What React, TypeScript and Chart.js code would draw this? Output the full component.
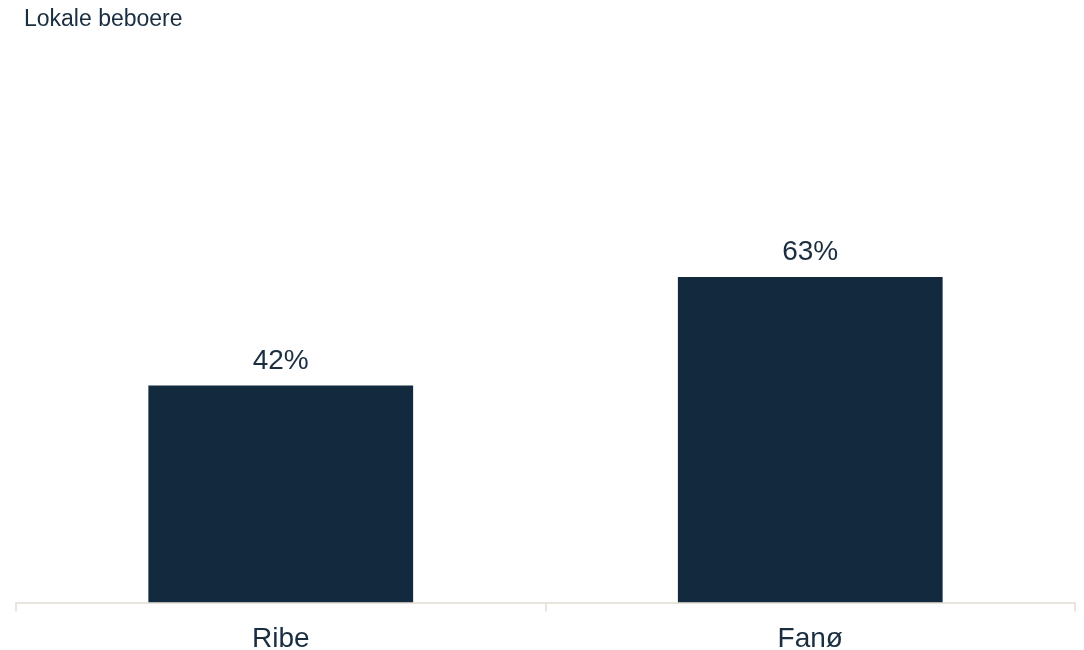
import React, { useEffect, useRef } from "react";
import { Chart, registerables } from "chart.js";

Chart.register(...registerables);

const TITLE = "Lokale beboere";
const categories = ["Ribe", "Fanø"];
const values = [42, 63];
const valueLabels = ["42%", "63%"];

const BAR_COLOR = "#13293d";
const TEXT_COLOR = "#1a2e40";
const AXIS_COLOR = "#e9e5dc";
const FONT = "'Liberation Sans', Arial, sans-serif";

const overlayPlugin = {
  id: "overlay",
  afterDatasetsDraw(chart: any) {
    const ctx = chart.ctx;
    ctx.save();
    ctx.fillStyle = TEXT_COLOR;
    ctx.font = `23px ${FONT}`;
    ctx.textAlign = "left";
    ctx.textBaseline = "alphabetic";
    ctx.fillText(TITLE, 24, 26);
    const meta = chart.getDatasetMeta(0);
    ctx.font = `28px ${FONT}`;
    ctx.textAlign = "center";
    meta.data.forEach((bar: any, i: number) => {
      ctx.fillText(valueLabels[i], bar.x, bar.y - 17);
    });
    ctx.restore();
  },
};

export default function App() {
  const ref = useRef<HTMLCanvasElement>(null);
  useEffect(() => {
    document.body.style.margin = "0";
    const chart = new Chart(ref.current!, {
      type: "bar",
      data: {
        labels: categories,
        datasets: [
          {
            data: values,
            backgroundColor: BAR_COLOR,
            barPercentage: 0.5,
            categoryPercentage: 1,
          },
        ],
      },
      options: {
        animation: false,
        responsive: false,
        layout: { padding: { left: 16, right: 9, top: 86, bottom: 0 } },
        plugins: { legend: { display: false }, tooltip: { enabled: false } },
        scales: {
          x: {
            afterFit: (scale: any) => {
              scale.height = 47.5;
            },
            grid: {
              display: true,
              drawOnChartArea: false,
              drawTicks: true,
              tickLength: 9,
              color: AXIS_COLOR,
              lineWidth: 2,
              offset: true,
            },
            border: { display: true, color: AXIS_COLOR, width: 2 },
            ticks: {
              color: TEXT_COLOR,
              font: { family: FONT, size: 28, lineHeight: 0.88 },
              padding: 15.5,
            },
          },
          y: { display: false, min: 0, max: 100 },
        },
      },
      plugins: [overlayPlugin],
    });
    return () => chart.destroy();
  }, []);
  return (
    <div style={{ width: 1084, height: 650 }}>
      <canvas ref={ref} width={1084} height={650} style={{ width: 1084, height: 650, display: "block" }} />
    </div>
  );
}
